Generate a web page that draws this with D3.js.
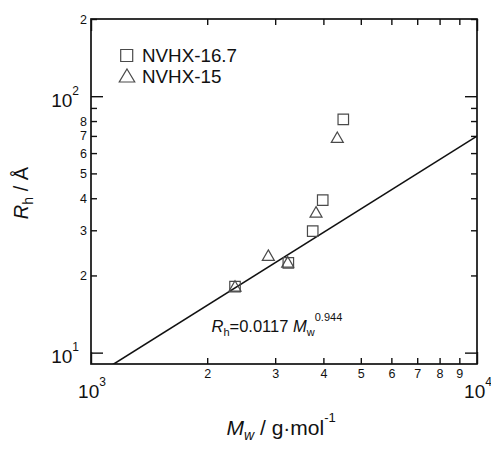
<!DOCTYPE html>
<html>
<head>
<meta charset="utf-8">
<script src="https://cdn.jsdelivr.net/npm/d3@7"></script>
<style>
  body { margin: 0; background: #fff; }
  text { font-family: "Liberation Sans", Arial, sans-serif; fill: #111; }
</style>
</head>
<body>
<svg id="chart" width="491" height="450"></svg>
<script>
// Hydrodynamic radius vs. weight-average molar mass
const seriesNames = ["NVHX-16.7", "NVHX-15"];
const mwA = [2361, 3245, 3753, 3984, 4504];
const rhA = [18.1, 22.4, 29.8, 39.3, 81.2];
const mwB = [2361, 2880, 3233, 3828, 4346];
const rhB = [18.2, 24.0, 22.6, 35.4, 69.2];

// Power-law fit Rh = k * Mw^a
const fitCoef = [0.0117];
const fitExp = [0.944];

const xMajorTicks = [1000, 10000];
const xMajorExp = ["3", "4"];
const xMinorTicks = [2000, 3000, 4000, 5000, 6000, 7000, 8000, 9000];
const xMinorLabels = ["2", "3", "4", "5", "6", "7", "8", "9"];
const yMajorTicks = [10, 100];
const yMajorExp = ["1", "2"];
const yMinorTicks = [20, 30, 40, 50, 60, 70, 80, 90, 200];
const yMinorLabels = ["2", "3", "4", "5", "6", "7", "8", "", "2"];

const plotL = 91, plotR = 477, plotT = 19, plotB = 364;
const ink = "#111";
const markInk = "#4a4a4a";

const svg = d3.select("#chart");

const x = d3.scaleLog().domain([1000, 10000]).range([plotL, plotR]);
const y = d3.scaleLog().domain([9.03, 200]).range([plotB, plotT]);

function styleAxis(g) {
  g.select(".domain").remove();
  g.selectAll(".tick line").attr("stroke", ink).attr("stroke-width", 1.4);
  g.selectAll(".tick text").attr("fill", ink).style("font-size", "12.5px");
  return g;
}

// bottom axis
svg.append("g").attr("transform", `translate(0,${plotB})`)
  .call(d3.axisBottom(x).tickValues(xMinorTicks).tickSize(-6).tickPadding(5)
    .tickFormat((d, i) => xMinorLabels[i]))
  .call(styleAxis);
svg.append("g").attr("transform", `translate(0,${plotB})`)
  .call(d3.axisBottom(x).tickValues(xMajorTicks).tickSize(-12).tickFormat(""))
  .call(styleAxis);
// top axis (mirror)
svg.append("g").attr("transform", `translate(0,${plotT})`)
  .call(d3.axisTop(x).tickValues(xMinorTicks).tickSize(-6).tickFormat(""))
  .call(styleAxis);
svg.append("g").attr("transform", `translate(0,${plotT})`)
  .call(d3.axisTop(x).tickValues(xMajorTicks).tickSize(-12).tickFormat(""))
  .call(styleAxis);
// left axis
svg.append("g").attr("transform", `translate(${plotL},0)`)
  .call(d3.axisLeft(y).tickValues(yMinorTicks).tickSize(-6).tickPadding(4)
    .tickFormat((d, i) => yMinorLabels[i]))
  .call(styleAxis);
svg.append("g").attr("transform", `translate(${plotL},0)`)
  .call(d3.axisLeft(y).tickValues(yMajorTicks).tickSize(-12).tickFormat(""))
  .call(styleAxis);
// right axis (mirror)
svg.append("g").attr("transform", `translate(${plotR},0)`)
  .call(d3.axisRight(y).tickValues(yMinorTicks).tickSize(-6).tickFormat(""))
  .call(styleAxis);
svg.append("g").attr("transform", `translate(${plotR},0)`)
  .call(d3.axisRight(y).tickValues(yMajorTicks).tickSize(-12).tickFormat(""))
  .call(styleAxis);

// decade labels with superscripts
function powerLabel(sel, exp) {
  sel.append("tspan").text("10");
  sel.append("tspan").attr("dy", -12).style("font-size", "12px").text(exp);
}
xMajorTicks.forEach((v, i) => {
  svg.append("text").attr("x", x(v) + 1).attr("y", 398)
    .attr("text-anchor", "middle").style("font-size", "19px")
    .call(powerLabel, xMajorExp[i]);
});
yMajorTicks.forEach((v, i) => {
  svg.append("text").attr("x", 79).attr("y", y(v) + 10.5)
    .attr("text-anchor", "end").style("font-size", "19px")
    .call(powerLabel, yMajorExp[i]);
});

// frame
svg.append("rect")
  .attr("x", plotL).attr("y", plotT)
  .attr("width", plotR - plotL).attr("height", plotB - plotT)
  .attr("fill", "none").attr("stroke", ink).attr("stroke-width", 1.7);

// fit line, clipped to the plot frame
svg.append("clipPath").attr("id", "plotClip")
  .append("rect").attr("x", plotL).attr("y", plotT)
  .attr("width", plotR - plotL).attr("height", plotB - plotT);
const fitPts = x.domain().map(m => [m, fitCoef[0] * Math.pow(m, fitExp[0])]);
svg.append("path")
  .attr("clip-path", "url(#plotClip)")
  .attr("d", d3.line().x(d => x(d[0])).y(d => y(d[1]))(fitPts))
  .attr("fill", "none").attr("stroke", ink).attr("stroke-width", 1.6);

// markers
function squarePath(cx, cy, s) {
  const h = s / 2;
  return `M${cx - h},${cy - h}H${cx + h}V${cy + h}H${cx - h}Z`;
}
function trianglePath(cx, cy, w, hgt) {
  return `M${cx},${cy - hgt / 2}L${cx + w / 2},${cy + hgt / 2}L${cx - w / 2},${cy + hgt / 2}Z`;
}
const ptsA = mwA.map((m, i) => [m, rhA[i]]);
const ptsB = mwB.map((m, i) => [m, rhB[i]]);
svg.append("g").selectAll("path").data(ptsA).join("path")
  .attr("d", d => squarePath(x(d[0]), y(d[1]), 10.5))
  .attr("fill", "none").attr("stroke", markInk).attr("stroke-width", 1.2);
svg.append("g").selectAll("path").data(ptsB).join("path")
  .attr("d", d => trianglePath(x(d[0]), y(d[1]), 12, 10.5))
  .attr("fill", "none").attr("stroke", markInk).attr("stroke-width", 1.2);

// legend
svg.append("path").attr("d", squarePath(126.7, 55.5, 12))
  .attr("fill", "none").attr("stroke", markInk).attr("stroke-width", 1.2);
svg.append("path").attr("d", trianglePath(127, 75.5, 15.5, 13))
  .attr("fill", "none").attr("stroke", markInk).attr("stroke-width", 1.2);
svg.append("text").attr("x", 142).attr("y", 61.6).style("font-size", "18.8px").text(seriesNames[0]);
svg.append("text").attr("x", 142).attr("y", 82.6).style("font-size", "18.8px").text(seriesNames[1]);

// fit equation
const eq = svg.append("text").attr("x", 211.5).attr("y", 331.5).style("font-size", "16.5px");
eq.append("tspan").style("font-style", "italic").text("R");
eq.append("tspan").attr("dy", 4).style("font-size", "11px").text("h");
eq.append("tspan").attr("dy", -4).text(`=${fitCoef[0]} `);
eq.append("tspan").style("font-style", "italic").text("M");
eq.append("tspan").attr("dy", 4).style("font-size", "11px").text("w");
eq.append("tspan").attr("dy", -15).style("font-size", "11px").text(`${fitExp[0]}`);

// axis titles
const xt = svg.append("text").attr("x", 226.5).attr("y", 435).style("font-size", "21px");
xt.append("tspan").style("font-style", "italic").text("M");
xt.append("tspan").attr("dy", 5).style("font-size", "14px").style("font-style", "italic").text("w");
xt.append("tspan").attr("dy", -5).text(" / g\u00b7mol");
xt.append("tspan").attr("dy", -13).style("font-size", "13px").text("-1");

const yt = svg.append("text")
  .attr("transform", "translate(28,193) rotate(-90)")
  .attr("text-anchor", "middle").style("font-size", "20px");
yt.append("tspan").style("font-style", "italic").text("R");
yt.append("tspan").attr("dy", 5).style("font-size", "14px").text("h");
yt.append("tspan").attr("dy", -5).text(" / \u00c5");
</script>
</body>
</html>
